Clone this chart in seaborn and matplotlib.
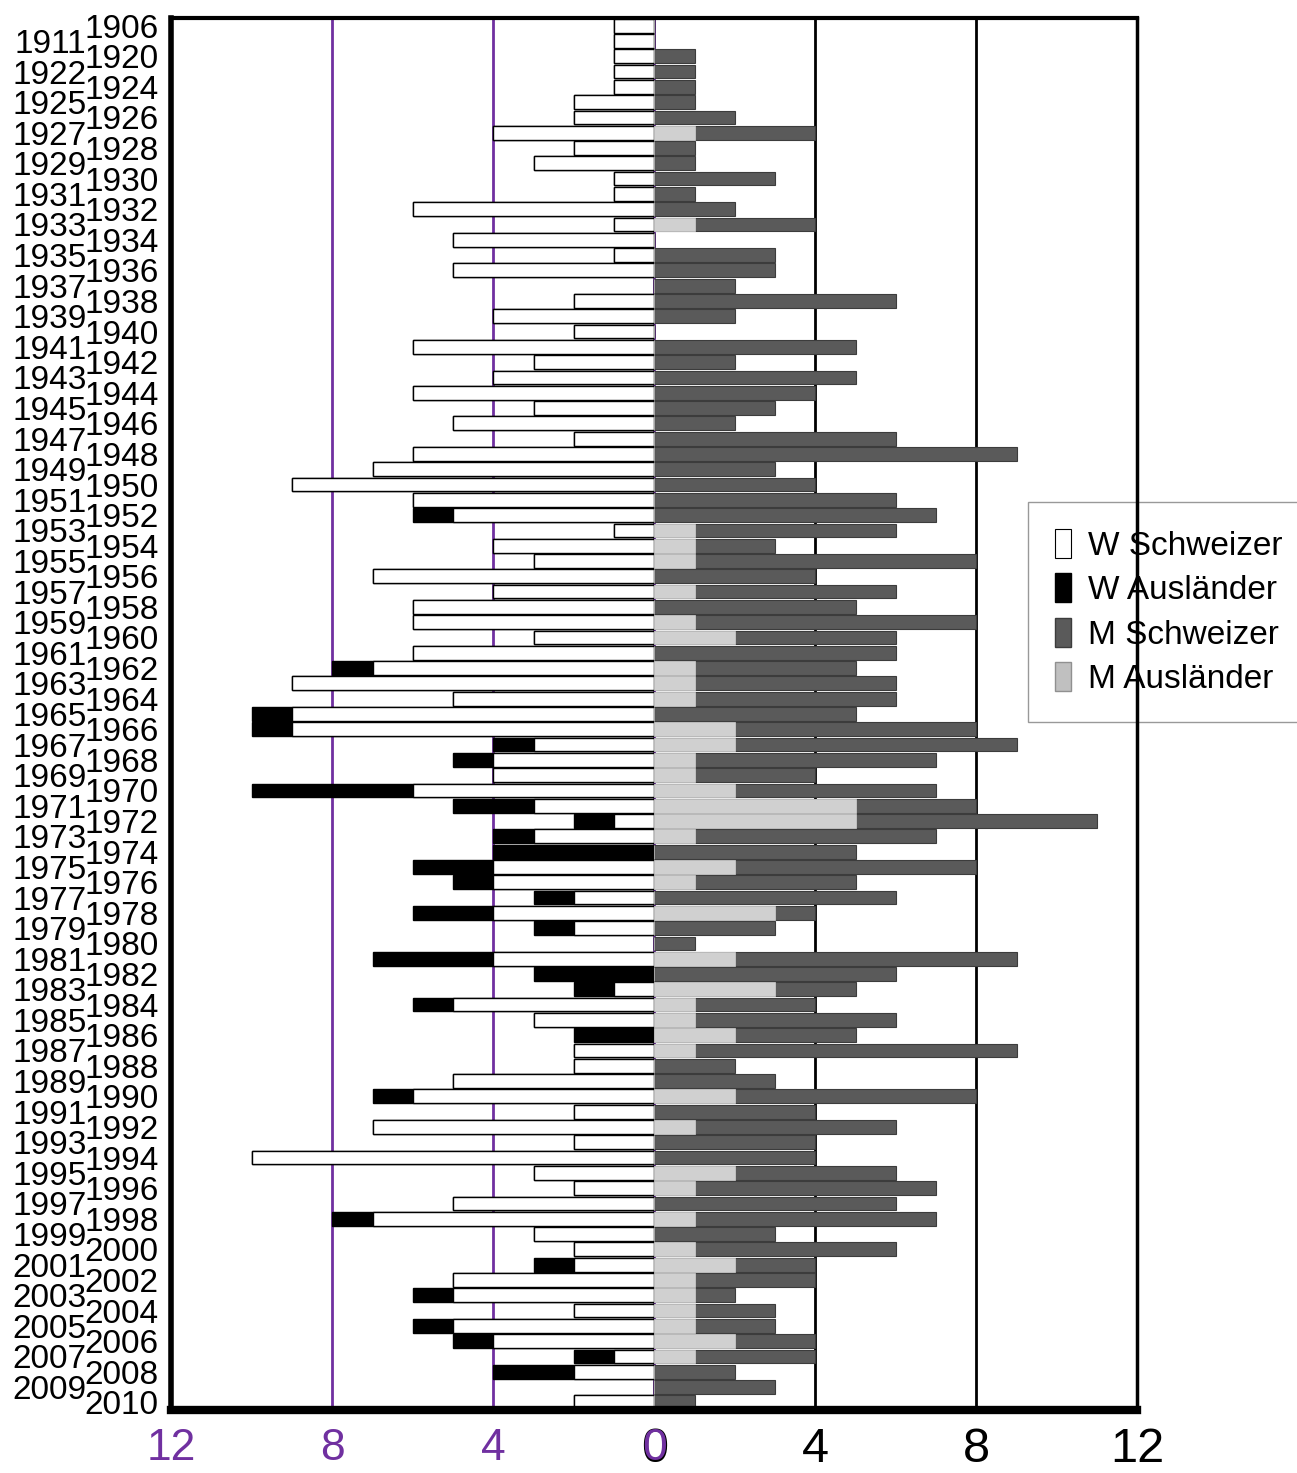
import pandas as pd
import seaborn as sns
import matplotlib.pyplot as plt
from matplotlib.patches import Patch

# rows top to bottom
years = [1906, 1911, 1920, 1922] + list(range(1924, 2011))

# women, Swiss (white) and foreign (black), drawn to the left
w_schweizer = [1, 1, 1, 1, 1, 2, 2, 4, 2, 3, 1, 1, 6, 1, 5, 1, 5, 0, 2, 4,
               2, 6, 3, 4, 6, 3, 5, 2, 6, 7, 9, 6, 5, 1, 4, 3, 7, 4, 6, 6,
               3, 6, 7, 9, 5, 9, 9, 3, 4, 4, 6, 3, 1, 3, 0, 4, 4, 2, 4, 2,
               0, 4, 0, 1, 5, 3, 0, 2, 2, 5, 6, 2, 7, 2, 10, 3, 2, 5, 7, 3,
               2, 2, 5, 5, 2, 5, 4, 1, 2, 0, 2]
w_auslaender = [0, 0, 0, 0, 0, 0, 0, 0, 0, 0, 0, 0, 0, 0, 0, 0, 0, 0, 0, 0,
                0, 0, 0, 0, 0, 0, 0, 0, 0, 0, 0, 0, 1, 0, 0, 0, 0, 0, 0, 0,
                0, 0, 1, 0, 0, 1, 1, 1, 1, 0, 4, 2, 1, 1, 4, 2, 1, 1, 2, 1,
                0, 3, 3, 1, 1, 0, 2, 0, 0, 0, 1, 0, 0, 0, 0, 0, 0, 0, 1, 0,
                0, 1, 0, 1, 0, 1, 1, 1, 2, 0, 0]
# men, foreign (light grey, next to 0) and Swiss (dark grey), drawn to the right
m_auslaender = [0, 0, 0, 0, 0, 0, 0, 1, 0, 0, 0, 0, 0, 1, 0, 0, 0, 0, 0, 0,
                0, 0, 0, 0, 0, 0, 0, 0, 0, 0, 0, 0, 0, 1, 1, 1, 0, 1, 0, 1,
                2, 0, 1, 1, 1, 0, 2, 2, 1, 1, 2, 5, 5, 1, 0, 2, 1, 0, 3, 0,
                0, 2, 0, 3, 1, 1, 2, 1, 0, 0, 2, 0, 1, 0, 0, 2, 1, 0, 1, 0,
                1, 2, 1, 1, 1, 1, 2, 1, 0, 0, 0]
m_schweizer = [0, 0, 1, 1, 1, 1, 2, 3, 1, 1, 3, 1, 2, 3, 0, 3, 3, 2, 6, 2,
               0, 5, 2, 5, 4, 3, 2, 6, 9, 3, 4, 6, 7, 5, 2, 7, 4, 5, 5, 7,
               4, 6, 4, 5, 5, 5, 6, 7, 6, 3, 5, 3, 6, 6, 5, 6, 4, 6, 1, 3,
               1, 7, 6, 2, 3, 5, 3, 8, 2, 3, 6, 4, 5, 4, 4, 4, 6, 6, 6, 3,
               5, 2, 3, 1, 2, 2, 2, 3, 2, 3, 1]

# women side ticks (purple) and men side ticks (black)
w_ticks = [-12, -8, -4, 0]
w_labels = ['12', '8', '4', '0']
m_ticks = [0, 4, 8, 12]
m_labels = ['0', '4', '8', '12']

PURPLE = '#7030A0'
DARK = '#5a5a5a'
LIGHT = '#d0d0d0'

df = pd.DataFrame({'year': [str(y) for y in years],
                   'ws': w_schweizer, 'wa': w_auslaender,
                   'ma': m_auslaender, 'ms': m_schweizer})
df['w_total'] = -(df['ws'] + df['wa'])
df['w_inner'] = -df['ws']
df['m_total'] = df['ma'] + df['ms']
df['m_inner'] = df['ma']

sns.set_style('white')
plt.rcParams['font.family'] = ['Liberation Sans', 'DejaVu Sans']
plt.rcParams['text.color'] = 'black'
plt.rcParams['xtick.color'] = 'black'
plt.rcParams['ytick.color'] = 'black'

fig = plt.figure(figsize=(12.97, 14.73), dpi=100)
ax = fig.add_axes([0.132, 0.0428, 0.745, 0.945])

order = list(df['year'])
common = dict(y='year', data=df, orient='h', order=order, width=0.9,
              saturation=1, errorbar=None, ax=ax)
sns.barplot(x='w_total', color='black', edgecolor='black', linewidth=1, **common)
sns.barplot(x='w_inner', color='white', edgecolor='black', linewidth=1, **common)
sns.barplot(x='m_total', color=DARK, edgecolor='#3c3c3c', linewidth=0.8, **common)
sns.barplot(x='m_inner', color=LIGHT, edgecolor=LIGHT, linewidth=0.5, **common)

for x in [-8, -4, 0]:
    ax.axvline(x, color=PURPLE, lw=2, zorder=0.5)
for x in [4, 8]:
    ax.axvline(x, color='black', lw=2, zorder=0.5)

ax.set_xlim(-12, 12)
ax.set_ylim(len(years) - 0.5, -0.5)
ax.set_xlabel('')
ax.set_ylabel('')

# year labels in two staggered columns
pos = list(range(len(years)))
ax.set_yticks(pos[0::2], labels=[str(y) for y in years[0::2]])
ax.set_yticks(pos[1::2], labels=[str(y) for y in years[1::2]], minor=True)
ax.tick_params(axis='y', which='major', length=0, pad=9, labelsize=24,
               labelcolor='black')
ax.tick_params(axis='y', which='minor', length=0, pad=61, labelsize=24,
               labelcolor='black')

# black men's scale underneath, purple women's scale drawn on top
ax.xaxis.remove_overlapping_locs = False
ax.set_xticks(m_ticks, labels=m_labels)
ax.set_xticks(w_ticks, labels=w_labels, minor=True)
ax.tick_params(axis='x', which='major', length=0, pad=12, labelsize=35,
               labelcolor='black')
ax.tick_params(axis='x', which='minor', length=0, pad=13, labelsize=32,
               labelcolor=PURPLE)

for side, lw in [('left', 4), ('top', 3), ('right', 2.5), ('bottom', 6)]:
    ax.spines[side].set_visible(True)
    ax.spines[side].set_color('black')
    ax.spines[side].set_linewidth(lw)

handles = [Patch(facecolor='white', edgecolor='black', lw=0.8, label='W Schweizer'),
           Patch(facecolor='black', edgecolor='black', label='W Ausländer'),
           Patch(facecolor=DARK, edgecolor='#3c3c3c', label='M Schweizer'),
           Patch(facecolor='#c0c0c0', edgecolor='#909090', label='M Ausländer')]
leg = ax.legend(handles=handles, loc='upper left', bbox_to_anchor=(0.7926, 0.659),
                bbox_transform=fig.transFigure, fontsize=24, frameon=True,
                fancybox=False, edgecolor='#808080', handlelength=0.5,
                handleheight=0.95, handletextpad=0.5, labelspacing=0.35,
                borderpad=0.8, borderaxespad=0)
leg.get_frame().set_linewidth(1)
leg.set_zorder(2)

fig.savefig('out.png', dpi=100, facecolor='white')
